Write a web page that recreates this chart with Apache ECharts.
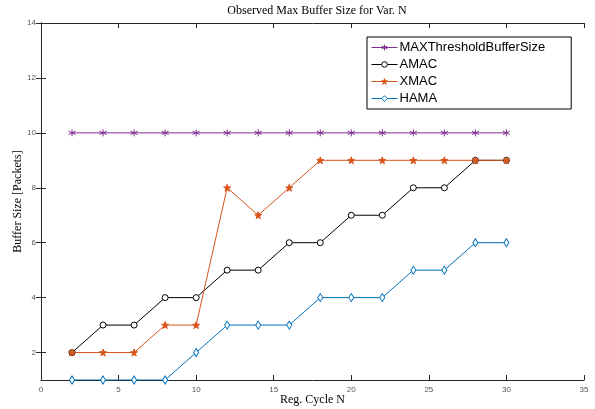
<!DOCTYPE html>
<html>
<head>
<meta charset="utf-8">
<script src="https://cdn.jsdelivr.net/npm/echarts@6/dist/echarts.min.js"></script>
<style>
  html, body { margin: 0; padding: 0; background: #fff; }
  #chart { width: 595px; height: 409px; }
</style>
</head>
<body>
<div id="chart"></div>
<script>
// data
var cycles = [2, 4, 6, 8, 10, 12, 14, 16, 18, 20, 22, 24, 26, 28, 30];
var maxThreshold = [10, 10, 10, 10, 10, 10, 10, 10, 10, 10, 10, 10, 10, 10, 10];
var amac = [2, 3, 3, 4, 4, 5, 5, 6, 6, 7, 7, 8, 8, 9, 9];
var xmac = [2, 2, 2, 3, 3, 8, 7, 8, 9, 9, 9, 9, 9, 9, 9];
var hama = [1, 1, 1, 1, 2, 3, 3, 3, 4, 4, 4, 5, 5, 6, 6];
var yTicks = [2, 4, 6, 8, 10, 12, 14];

function pairs (ys) {
  return cycles.map(function (x, i) { return [x, ys[i]]; });
}

var asterisk = 'path://M0,-1L0,1M-0.87,-0.5L0.87,0.5M-0.87,0.5L0.87,-0.5';
var star = 'path://M0,-10L2.35,-3.24L9.51,-3.09L3.8,1.24L5.88,8.09L0,4L-5.88,8.09L-3.8,1.24L-9.51,-3.09L-2.35,-3.24Z';

var labelStyle = { fontFamily: 'Liberation Sans', fontSize: 8, color: '#555' };
var axisLineStyle = { color: '#262626', width: 1 };

function series (name, ys, color, symbol, size, fill) {
  return {
    name: name,
    type: 'line',
    data: pairs(ys),
    symbol: symbol,
    symbolSize: size,
    showAllSymbol: true,
    lineStyle: { color: color, width: 1 },
    itemStyle: { color: fill, borderColor: color, borderWidth: 1 },
    emphasis: { disabled: true },
    animation: false
  };
}

var chart = echarts.init(document.getElementById('chart'));
chart.setOption({
  animation: false,
  title: {
    text: 'Observed Max Buffer Size for Var. N',
    left: 312, top: 0, textAlign: 'center',
    textStyle: { fontFamily: 'Liberation Serif', fontSize: 12, fontWeight: 'normal', color: '#000' }
  },
  grid: { left: 41, right: 11, top: 23, bottom: 29, outerBoundsMode: 'none', containLabel: false },
  legend: {
    orient: 'vertical',
    left: 367, top: 37,
    padding: [4, 26, 4, 4],
    itemGap: 4,
    itemWidth: 26, itemHeight: 7,
    borderColor: '#000', borderWidth: 1, borderRadius: 0,
    backgroundColor: '#fff',
    lineStyle: { width: 1 },
    itemStyle: { borderWidth: 1 },
    textStyle: { fontFamily: 'Liberation Sans', fontSize: 13, color: '#000', padding: [0, 0, 0, -3] },
    data: ['MAXThresholdBufferSize', 'AMAC', 'XMAC', 'HAMA']
  },
  xAxis: [{
    type: 'value', min: 0, max: 35, interval: 5,
    name: 'Reg. Cycle N', nameLocation: 'middle', nameGap: 14, nameMoveOverlap: false,
    nameTextStyle: { fontFamily: 'Liberation Serif', fontSize: 12, color: '#000' },
    axisLine: { lineStyle: axisLineStyle },
    axisTick: { inside: true, length: 5, lineStyle: axisLineStyle },
    axisLabel: Object.assign({ margin: 6 }, labelStyle),
    splitLine: { show: false }
  }, {
    type: 'value', min: 0, max: 35, interval: 5, position: 'top',
    axisLine: { lineStyle: axisLineStyle },
    axisTick: { inside: true, length: 5, lineStyle: axisLineStyle },
    axisLabel: { show: false },
    splitLine: { show: false }
  }],
  yAxis: [{
    type: 'value', min: 1, max: 14,
    name: 'Buffer Size [Packets]', nameLocation: 'middle', nameGap: 17, nameMoveOverlap: false,
    nameTextStyle: { fontFamily: 'Liberation Serif', fontSize: 12, color: '#000' },
    axisLine: { show: true, lineStyle: axisLineStyle },
    axisTick: { show: true, inside: true, length: 5, lineStyle: axisLineStyle, customValues: yTicks },
    axisLabel: Object.assign({ customValues: yTicks, margin: 5 }, labelStyle),
    splitLine: { show: false }
  }, {
    type: 'value', min: 1, max: 14, position: 'right',
    axisLine: { show: true, lineStyle: axisLineStyle },
    axisTick: { show: true, inside: true, length: 5, lineStyle: axisLineStyle, customValues: yTicks },
    axisLabel: { show: false, customValues: yTicks },
    splitLine: { show: false }
  }],
  series: [
    series('MAXThresholdBufferSize', maxThreshold, '#7E2F8E', asterisk, 7, '#7E2F8E'),
    series('AMAC', amac, '#000000', 'circle', 6, '#fff'),
    series('XMAC', xmac, '#D95319', star, 7, '#D95319'),
    series('HAMA', hama, '#0072BD', 'diamond', [5, 8], '#fff')
  ]
});
</script>
</body>
</html>
